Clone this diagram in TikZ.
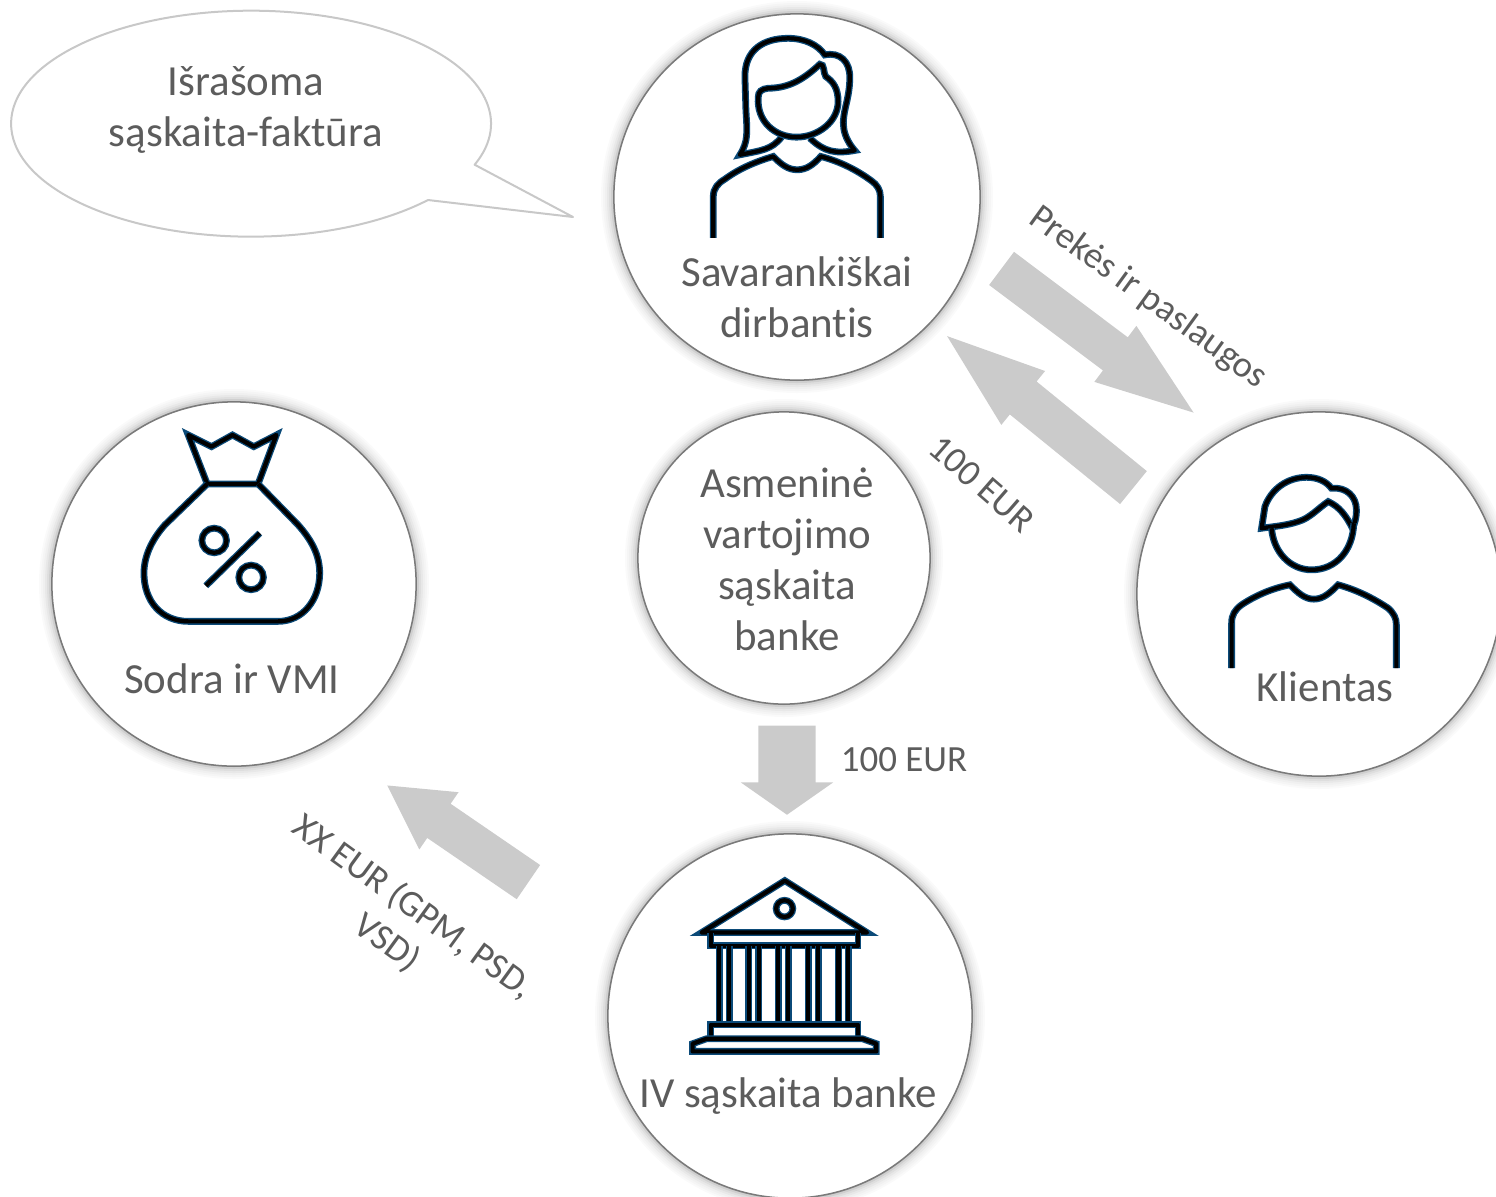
\documentclass[tikz,border=0pt]{standalone}
\usepackage{fontspec}
\usepackage{xcolor}
\usepackage{tikz}
\usetikzlibrary{shapes.arrows}
\setmainfont{Carlito}[Ligatures=CommonOff]
\definecolor{labelgrey}{HTML}{5C5C5C}
\definecolor{arrowgrey}{HTML}{CBCBCB}
\definecolor{bubbleline}{HTML}{C8C8C8}
\definecolor{discline}{HTML}{7A7A7A}
\definecolor{iconblue}{HTML}{0B4A78}
\newcommand{\halodisc}[4]{
	\foreach \spread/\tone in {13/2,11/4,9/6,7/9,5/13,3/19,1/28}{
		\fill[black!\tone] (#2,#3) circle ({#4+\spread});
	}
	\node[disc, minimum size=#4*0.02cm] (#1) at (#2,#3) {};
}
\begin{document}
\begin{tikzpicture}[x=0.01cm, y=-0.01cm, text=labelgrey,
		disc/.style={circle, draw=discline, fill=white, line width=.015cm, inner sep=0pt},
		biglabel/.style={align=center, inner sep=0pt, font=\fontsize{12.2}{14.5}\selectfont},
		smalllabel/.style={align=center, inner sep=0pt, font=\fontsize{10.5}{12.6}\selectfont},
		blockarrow/.style={single arrow, anchor=tail, fill=arrowgrey, inner xsep=0pt, single arrow head indent=0pt},
		icon/.style={draw=black, line width=.042cm, line join=round, preaction={draw=iconblue, line width=.068cm}},
		iconzoom/.style={x=0.003333cm, y=-0.003333cm}]
	\path[use as bounding box, clip] (0,0) rectangle (1496,1196);

	\draw[bubbleline, fill=white, line width=.02cm, line join=round] (428,200) arc [start angle=42.5, end angle=381.3, x radius=240, y radius=113] -- (573,217) -- cycle;
	\node[biglabel] (invoice) at (246,110) {Išrašoma\\sąskaita-faktūra};

	\halodisc{worker}{797}{197}{183}
	\halodisc{account}{784}{558}{146}
	\halodisc{client}{1319}{594}{182}
	\halodisc{sodra}{234}{584}{182}
	\halodisc{bank}{790}{1016}{182}

	\node[biglabel] (workerlabel) at (797,297) {Savarankiškai\\dirbantis};
	\node[biglabel] (accountlabel) at (787,559) {Asmeninė\\vartojimo\\sąskaita\\banke};
	\node[biglabel] (clientlabel) at (1325,687) {Klientas};
	\node[biglabel] (sodralabel) at (232,679) {Sodra ir VMI};
	\node[biglabel] (banklabel) at (788,1096) {IV sąskaita banke};

	\node[blockarrow, rotate=-36.9, inner ysep=.2cm, minimum height=2.40cm, minimum width=.686cm, single arrow tip angle=39.4, single arrow head extend=.143cm] (goods) at (1001,268) {};
	\node[blockarrow, rotate=140.9, inner ysep=.205cm, minimum height=2.40cm, minimum width=.68cm, single arrow tip angle=39, single arrow head extend=.135cm] (payment) at (1134,488) {};
	\node[blockarrow, rotate=-90, inner ysep=.28cm, minimum height=.89cm, minimum width=.91cm, single arrow tip angle=110, single arrow head extend=.175cm] (transfer) at (787,725) {};
	\node[blockarrow, rotate=145.6, inner ysep=.2cm, minimum height=1.71cm, minimum width=.68cm, single arrow tip angle=58, single arrow head extend=.14cm] (taxes) at (529,882.5) {};

	\node[smalllabel, rotate=-36] (goodslabel) at (1148,298) {Prekės ir paslaugos};
	\node[smalllabel, rotate=-41] (paymentlabel) at (982,484) {100 EUR};
	\node[smalllabel] (transferlabel) at (904,760) {100 EUR};
	\node[smalllabel, rotate=-36] (taxeslabel) at (400,925) {XX EUR (GPM, PSD,\\VSD)};

	\begin{scope}[shift={(690,20)}, iconzoom]
		\draw[icon] (275,352) .. controls (245,390) and (215,392) .. (150,405) .. controls (175,365) and (172,340) .. (168,270) -- (165,170) .. controls (165,90) and (220,55) .. (295,55) .. controls (345,55) and (385,75) .. (405,105) .. controls (450,95) and (482,125) .. (480,175) .. controls (480,240) and (455,280) .. (462,325) .. controls (465,350) and (480,375) .. (495,392) .. controls (440,402) and (405,398) .. (360,355);
		\draw[icon] (205,232) .. controls (205,215) and (215,207) .. (235,205) .. controls (300,205) and (345,175) .. (390,133) .. controls (405,130) and (400,160) .. (408,170) .. controls (430,185) and (445,205) .. (445,245) .. controls (445,305) and (385,352) .. (320,352) .. controls (255,352) and (200,305) .. (205,232) -- cycle;
		\draw[icon] (70,655) -- (70,530) .. controls (70,505) and (85,490) .. (105,478) .. controls (150,445) and (200,425) .. (250,410) .. controls (275,435) and (295,450) .. (322,450) .. controls (350,450) and (370,435) .. (393,410) .. controls (450,425) and (500,450) .. (545,483) .. controls (562,495) and (572,510) .. (572,530) -- (572,655);
	\end{scope}

	\begin{scope}[shift={(1210,460)}, iconzoom]
		\draw[icon] (155,205) -- (165,140) .. controls (185,85) and (235,52) .. (290,52) .. controls (325,52) and (350,65) .. (365,85) .. controls (410,80) and (440,110) .. (440,150) .. controls (440,175) and (435,190) .. (428,205) .. controls (410,170) and (390,140) .. (355,125) .. controls (325,145) and (300,175) .. (265,185) .. controls (230,197) and (190,200) .. (155,205) -- cycle;
		\draw[icon] (185,205) .. controls (190,275) and (240,330) .. (305,330) .. controls (380,330) and (430,270) .. (432,190);
		\draw[icon] (65,625) -- (65,490) .. controls (65,465) and (75,450) .. (95,435) .. controls (140,405) and (190,385) .. (240,375) .. controls (265,400) and (285,418) .. (312,418) .. controls (340,418) and (360,400) .. (385,375) .. controls (440,390) and (490,415) .. (535,445) .. controls (552,460) and (560,475) .. (560,495) -- (560,625);
	\end{scope}

	\begin{scope}[shift={(120,420)}, iconzoom]
		\draw[icon] (205,45) -- (275,80) -- (338,45) -- (402,80) -- (470,45) -- (415,192) -- (262,192) -- cycle;
		\draw[icon] (262,192) -- (135,315) .. controls (95,360) and (72,410) .. (72,460) .. controls (72,545) and (125,605) .. (205,605) -- (475,605) .. controls (550,605) and (600,540) .. (600,460) .. controls (600,405) and (575,360) .. (535,315) -- (415,192);
		\draw[icon] (283,362) circle (37);
		\draw[icon] (394,473) circle (37);
		\draw[icon] (258,498) -- (420,340);
	\end{scope}

	\begin{scope}[shift={(670,860)}, iconzoom]
		\draw[icon] (345,62) -- (592,218) -- (95,218) -- cycle;
		\draw[icon] (344,146) circle (25);
		\draw[icon] (122,218) -- (122,258) -- (565,258) -- (565,218);
		\foreach \col in {163,252,340,430,521}{
			\draw[icon] (\col-15,258) -- (\col-15,495);
			\draw[icon] (\col+15,258) -- (\col+15,495);
		}
		\draw[icon] (122,537) -- (122,495) -- (565,495) -- (565,537);
		\draw[icon] (110,537) -- (68,552) -- (68,575) -- (620,575) -- (620,552) -- (578,537) -- cycle;
	\end{scope}
\end{tikzpicture}
\end{document}
